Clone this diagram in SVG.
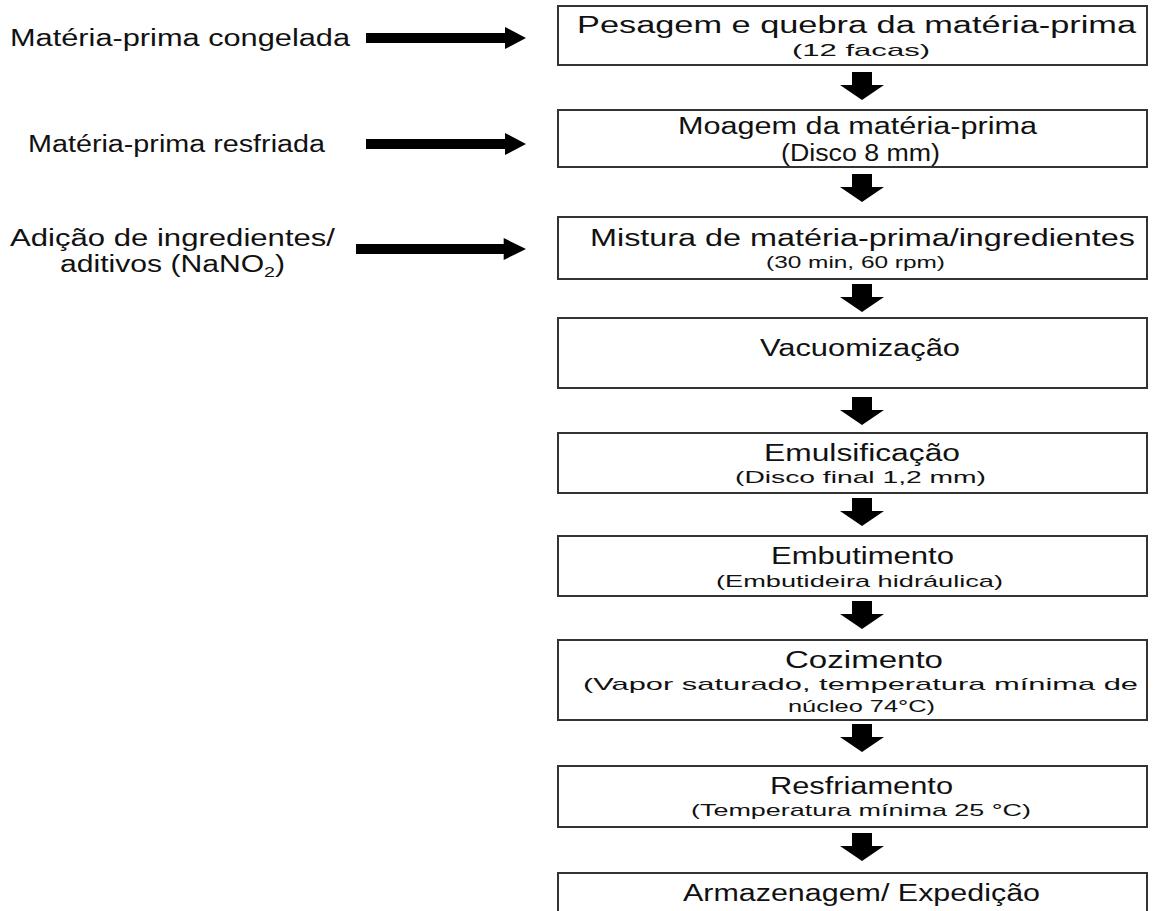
<svg xmlns="http://www.w3.org/2000/svg" xmlns:xlink="http://www.w3.org/1999/xlink" width="1165" height="911" viewBox="0 0 1165 911">
<style>
.box{fill:#fff;stroke:#333;stroke-width:2}
.t{font-family:"Liberation Sans",Arial,sans-serif;fill:#111}
.m{font-size:23px}
.s{font-size:17px}
.l{font-size:23px}
.arr{fill:#000}
</style>
<defs>
<path id="down" d="M-10,0 H10 V13 H22 L0,28 L-22,13 H-10 Z"/>
<path id="right" d="M0,-5 H139 V-11 L160,0 L139,11 V5 H0 Z"/>
</defs>
<rect width="1165" height="911" fill="#fff"/>

<g id="connectors" class="arr">
<use xlink:href="#right" href="#right" transform="translate(366,38)"/>
<use xlink:href="#right" href="#right" transform="translate(366,144)"/>
<use xlink:href="#right" href="#right" transform="translate(356,249) scale(1.0625,1)"/>
<use xlink:href="#down" href="#down" x="862" y="72"/>
<use xlink:href="#down" href="#down" x="862" y="174"/>
<use xlink:href="#down" href="#down" x="862" y="284"/>
<use xlink:href="#down" href="#down" x="862" y="397"/>
<use xlink:href="#down" href="#down" x="862" y="498"/>
<use xlink:href="#down" href="#down" x="862" y="601"/>
<use xlink:href="#down" href="#down" x="862" y="724"/>
<use xlink:href="#down" href="#down" x="862" y="833"/>
</g>

<g id="in1"><text class="t l" x="10" y="46" textLength="340" lengthAdjust="spacingAndGlyphs">Matéria-prima congelada</text></g>
<g id="in2"><text class="t l" x="28" y="152" textLength="297" lengthAdjust="spacingAndGlyphs">Matéria-prima resfriada</text></g>
<g id="in3">
<text class="t l" x="10" y="246" textLength="325" lengthAdjust="spacingAndGlyphs">Adição de ingredientes/</text>
<text class="t l" x="60" y="272" textLength="225" lengthAdjust="spacingAndGlyphs">aditivos (NaNO<tspan font-size="15" dy="5">2</tspan><tspan dy="-5">)</tspan></text>
</g>

<g id="n1"><rect class="box" x="558" y="6" width="589" height="59"/>
<text class="t m" x="577" y="33" textLength="559" lengthAdjust="spacingAndGlyphs">Pesagem e quebra da matéria-prima</text>
<text class="t s" x="792" y="56" textLength="138" lengthAdjust="spacingAndGlyphs">(12 facas)</text></g>

<g id="n2"><rect class="box" x="558" y="110" width="589" height="57"/>
<text class="t m" x="678" y="134" textLength="359" lengthAdjust="spacingAndGlyphs">Moagem da matéria-prima</text>
<text class="t m" x="781" y="161" textLength="159" lengthAdjust="spacingAndGlyphs" font-size="19">(Disco 8 mm)</text></g>

<g id="n3"><rect class="box" x="558" y="217" width="589" height="62"/>
<text class="t m" x="590" y="246" textLength="545" lengthAdjust="spacingAndGlyphs">Mistura de matéria-prima/ingredientes</text>
<text class="t s" x="766" y="268" textLength="179" lengthAdjust="spacingAndGlyphs">(30 min, 60 rpm)</text></g>

<g id="n4"><rect class="box" x="558" y="318" width="589" height="70"/>
<text class="t m" x="760" y="356" textLength="200" lengthAdjust="spacingAndGlyphs">Vacuomização</text></g>

<g id="n5"><rect class="box" x="558" y="433" width="589" height="60"/>
<text class="t m" x="764" y="461" textLength="196" lengthAdjust="spacingAndGlyphs">Emulsificação</text>
<text class="t s" x="735" y="483" textLength="251" lengthAdjust="spacingAndGlyphs">(Disco final 1,2 mm)</text></g>

<g id="n6"><rect class="box" x="558" y="536" width="589" height="60"/>
<text class="t m" x="771" y="564" textLength="183" lengthAdjust="spacingAndGlyphs">Embutimento</text>
<text class="t s" x="716" y="587" textLength="287" lengthAdjust="spacingAndGlyphs">(Embutideira hidráulica)</text></g>

<g id="n7"><rect class="box" x="558" y="640" width="589" height="80"/>
<text class="t m" x="785" y="668" textLength="158" lengthAdjust="spacingAndGlyphs">Cozimento</text>
<text class="t s" x="583" y="690" textLength="555" lengthAdjust="spacingAndGlyphs">(Vapor saturado, temperatura mínima de</text>
<text class="t s" x="788" y="712" textLength="147" lengthAdjust="spacingAndGlyphs">núcleo 74°C)</text></g>

<g id="n8"><rect class="box" x="558" y="766" width="589" height="61"/>
<text class="t m" x="770" y="794" textLength="183" lengthAdjust="spacingAndGlyphs">Resfriamento</text>
<text class="t s" x="691" y="816" textLength="340" lengthAdjust="spacingAndGlyphs">(Temperatura mínima 25 °C)</text></g>

<g id="n9"><rect class="box" x="558" y="873" width="589" height="60"/>
<text class="t m" x="683" y="901" textLength="357" lengthAdjust="spacingAndGlyphs">Armazenagem/ Expedição</text></g>
</svg>
